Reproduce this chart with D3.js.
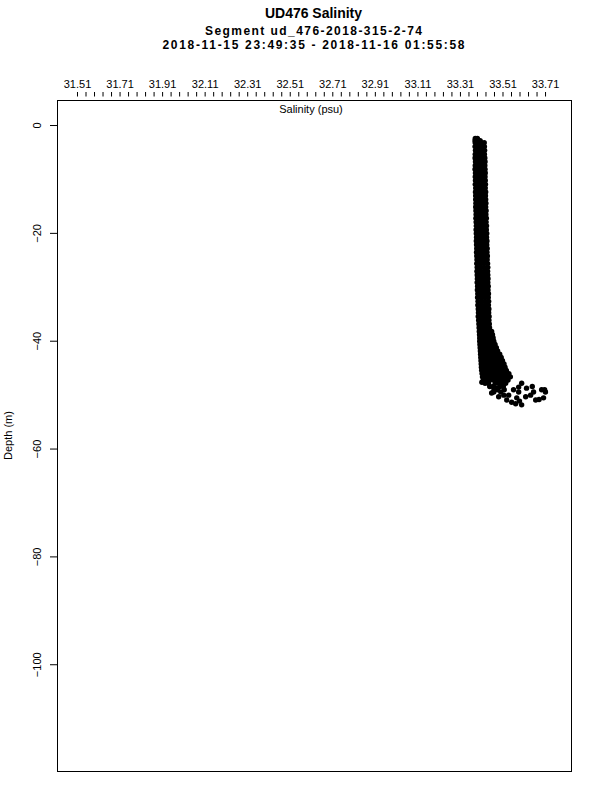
<!DOCTYPE html>
<html>
<head>
<meta charset="utf-8">
<script src="https://cdn.jsdelivr.net/npm/d3@7"></script>
<style>
  html, body { margin: 0; padding: 0; background: #fff; }
  svg { display: block; }
  text { font-family: "Liberation Sans", Arial, Helvetica, sans-serif; fill: #000; }
</style>
</head>
<body>
<svg id="chart" width="600" height="800"></svg>
<script>
// ---------------- data ----------------
const titleLines = [
  "UD476 Salinity",
  "Segment ud_476-2018-315-2-74",
  "2018-11-15 23:49:35 - 2018-11-16 01:55:58"
];
const xLabel = "Salinity (psu)";
const yLabel = "Depth (m)";
const xTickLabels = [31.51, 31.71, 31.91, 32.11, 32.31, 32.51, 32.71, 32.91, 33.11, 33.31, 33.51, 33.71];
const yTickValues = [0, -20, -40, -60, -80, -100];
const xDomain = [31.416, 33.832];
const yDomain = [-119.8, 4.64];

// dense profile: [depth, [salinity readings at that depth]]
const bandRows = [
  [-2.5, [33.382, 33.392]],
  [-2.9, [33.381, 33.394, 33.405]],
  [-3.3, [33.382, 33.396, 33.410, 33.424]],
  [-4.0, [33.381, 33.395, 33.410, 33.425]],
  [-4.7, [33.383, 33.397, 33.411, 33.426]],
  [-5.4, [33.382, 33.396, 33.411, 33.425]],
  [-6.1, [33.381, 33.396, 33.412, 33.427]],
  [-6.8, [33.383, 33.398, 33.413, 33.428]],
  [-7.5, [33.382, 33.397, 33.412, 33.427]],
  [-8.2, [33.381, 33.396, 33.412, 33.428]],
  [-8.9, [33.383, 33.398, 33.413, 33.429]],
  [-9.6, [33.382, 33.397, 33.413, 33.428]],
  [-10.3, [33.383, 33.398, 33.414, 33.429]],
  [-11.0, [33.382, 33.398, 33.414, 33.430]],
  [-11.7, [33.384, 33.399, 33.414, 33.429]],
  [-12.4, [33.383, 33.398, 33.415, 33.431]],
  [-13.1, [33.384, 33.399, 33.415, 33.430]],
  [-13.8, [33.384, 33.400, 33.416, 33.431]],
  [-14.5, [33.385, 33.400, 33.415, 33.432]],
  [-15.2, [33.384, 33.400, 33.416, 33.431]],
  [-15.9, [33.385, 33.401, 33.417, 33.433]],
  [-16.6, [33.386, 33.401, 33.416, 33.432]],
  [-17.3, [33.385, 33.401, 33.417, 33.434]],
  [-18.0, [33.386, 33.402, 33.418, 33.433]],
  [-18.7, [33.387, 33.402, 33.418, 33.435]],
  [-19.4, [33.386, 33.402, 33.419, 33.434]],
  [-20.1, [33.387, 33.403, 33.419, 33.436]],
  [-20.8, [33.388, 33.403, 33.419, 33.435]],
  [-21.5, [33.387, 33.404, 33.420, 33.437]],
  [-22.2, [33.388, 33.404, 33.420, 33.436]],
  [-22.9, [33.389, 33.405, 33.421, 33.438]],
  [-23.6, [33.388, 33.404, 33.421, 33.437]],
  [-24.3, [33.389, 33.405, 33.422, 33.439]],
  [-25.0, [33.390, 33.406, 33.422, 33.438]],
  [-25.7, [33.389, 33.406, 33.423, 33.440]],
  [-26.4, [33.391, 33.407, 33.423, 33.441]],
  [-27.1, [33.390, 33.407, 33.424, 33.440]],
  [-27.8, [33.391, 33.408, 33.424, 33.441]],
  [-28.5, [33.392, 33.408, 33.425, 33.442]],
  [-29.2, [33.391, 33.409, 33.425, 33.441]],
  [-29.9, [33.393, 33.409, 33.426, 33.443]],
  [-30.6, [33.392, 33.410, 33.426, 33.442]],
  [-31.3, [33.394, 33.410, 33.427, 33.444]],
  [-32.0, [33.393, 33.411, 33.427, 33.443]],
  [-32.7, [33.395, 33.411, 33.428, 33.445]],
  [-33.4, [33.394, 33.412, 33.428, 33.444]],
  [-34.1, [33.396, 33.412, 33.429, 33.446]],
  [-34.8, [33.397, 33.413, 33.430, 33.445]],
  [-35.5, [33.396, 33.413, 33.430, 33.447]],
  [-36.2, [33.398, 33.414, 33.431, 33.446]],
  [-36.9, [33.399, 33.415, 33.431, 33.448]],
  [-37.6, [33.400, 33.416, 33.432, 33.449]],
  [-38.3, [33.401, 33.417, 33.433, 33.450, 33.459]],
  [-38.9, [33.402, 33.418, 33.434, 33.450, 33.463]],
  [-39.5, [33.403, 33.419, 33.435, 33.451, 33.466]],
  [-40.1, [33.403, 33.419, 33.435, 33.452, 33.469]],
  [-40.7, [33.404, 33.420, 33.436, 33.453, 33.469, 33.475]],
  [-41.3, [33.405, 33.421, 33.437, 33.454, 33.470, 33.481]],
  [-41.9, [33.406, 33.422, 33.438, 33.455, 33.471, 33.487]],
  [-42.5, [33.407, 33.423, 33.440, 33.457, 33.474, 33.491, 33.497]],
  [-43.1, [33.408, 33.424, 33.441, 33.458, 33.475, 33.492, 33.504]],
  [-43.7, [33.409, 33.425, 33.442, 33.459, 33.476, 33.493, 33.510]],
  [-44.3, [33.410, 33.426, 33.443, 33.460, 33.477, 33.494, 33.511, 33.517]],
  [-44.9, [33.411, 33.427, 33.444, 33.461, 33.478, 33.495, 33.512, 33.522]],
  [-45.5, [33.412, 33.428, 33.445, 33.462, 33.479, 33.496, 33.513, 33.528]],
  [-46.1, [33.414, 33.430, 33.447, 33.464, 33.481, 33.498, 33.515, 33.532, 33.540]],
  [-46.7, [33.416, 33.432, 33.449, 33.466, 33.483, 33.500, 33.517, 33.534, 33.547]],
  [-47.3, [33.420, 33.436, 33.452, 33.468, 33.484, 33.501, 33.518, 33.536]],
  [-47.9, [33.428, 33.444, 33.476, 33.492, 33.508, 33.525]],
  [-48.5, [33.450, 33.466, 33.498, 33.514]],
  [-49.1, [33.470, 33.486, 33.518]]
];

// scattered deep readings
const deepDepth    = [-47.7, -47.0, -49.5, -50.4, -50.1, -50.1, -51.4, -50.6, -51.9, -50.4, -47.9, -48.8, -49.5, -51.0, -49.1, -50.6, -50.1, -49.7, -48.8, -49.1, -49.5, -49.5, -51.2, -48.5, -50.9, -49.5, -51.0, -51.7, -48.6, -49.1];
const deepSalinity = [33.413, 33.427, 33.469, 33.492, 33.516, 33.539, 33.553, 33.577, 33.600, 33.619, 33.600, 33.623, 33.656, 33.666, 33.694, 33.703, 33.642, 33.459, 33.482, 33.562, 33.586, 33.712, 33.590, 33.650, 33.682, 33.502, 33.530, 33.572, 33.586, 33.708];

// ---------------- chart ----------------
const svg = d3.select("#chart");
const plot = { left: 57, right: 571, top: 100, bottom: 771 };

const x = d3.scaleLinear().domain(xDomain).range([plot.left, plot.right]);
const y = d3.scaleLinear().domain(yDomain).range([plot.bottom, plot.top]);

// titles
const titleY = [18, 35, 49];
const titleLen = [97, 217, 302];
const titleSize = [14, 12, 12];
svg.selectAll("text.title").data(titleLines).join("text")
  .attr("class", "title")
  .attr("x", 313.5)
  .attr("y", (d, i) => titleY[i])
  .attr("text-anchor", "middle")
  .attr("textLength", (d, i) => titleLen[i])
  .attr("lengthAdjust", "spacing")
  .style("font-weight", "bold")
  .style("font-size", (d, i) => titleSize[i] + "px")
  .text(d => d);

// top axis: minor ticks every 0.04, labels every 0.2
const tickVals = d3.range(0, 56).map(i => +(xTickLabels[0] + i * 0.04).toFixed(2));
const topAxis = d3.axisTop(x)
  .tickValues(tickVals)
  .tickSize(4.5)
  .tickSizeOuter(0)
  .tickFormat(d => xTickLabels.some(v => Math.abs(v - d) < 1e-6) ? d.toFixed(2) : "");
const gx = svg.append("g").attr("transform", `translate(0,${plot.top - 3.5})`).call(topAxis);
gx.select(".domain").remove();
gx.selectAll(".tick line").attr("stroke", "#000").attr("stroke-width", 1);
gx.selectAll(".tick text")
  .attr("y", -8.5)
  .style("font-size", "11px")
  .style("font-family", "'Liberation Sans', Arial, sans-serif")
  .attr("fill", "#000");

// left axis
const leftAxis = d3.axisLeft(y)
  .tickValues(yTickValues)
  .tickSize(7)
  .tickSizeOuter(0)
  .tickFormat(d => d === 0 ? "0" : "\u2212" + Math.abs(d));
const gy = svg.append("g").attr("transform", `translate(${plot.left},0)`).call(leftAxis);
gy.select(".domain").remove();
gy.selectAll(".tick line").attr("stroke", "#000");
gy.selectAll(".tick text")
  .attr("x", null).attr("dy", null)
  .attr("text-anchor", "middle")
  .attr("transform", "translate(-16,0) rotate(-90)")
  .attr("y", 0)
  .style("font-size", "11px")
  .style("font-family", "'Liberation Sans', Arial, sans-serif")
  .attr("fill", "#000");

// frame
svg.append("rect")
  .attr("x", plot.left + 0.5).attr("y", plot.top + 0.5)
  .attr("width", plot.right - plot.left).attr("height", plot.bottom - plot.top)
  .attr("fill", "none").attr("stroke", "#000").attr("stroke-width", 1);

// axis titles
svg.append("text")
  .attr("x", (plot.left + plot.right) / 2 - 3)
  .attr("y", 113)
  .attr("text-anchor", "middle")
  .style("font-size", "11px")
  .text(xLabel);
svg.append("text")
  .attr("transform", `translate(12,${(plot.top + plot.bottom) / 2}) rotate(-90)`)
  .attr("text-anchor", "middle")
  .style("font-size", "11px")
  .text(yLabel);

// points
const pts = [];
bandRows.forEach(([d, sals]) => sals.forEach(s => pts.push({ d, s })));
deepDepth.forEach((d, i) => pts.push({ d, s: deepSalinity[i] }));

svg.append("g").selectAll("circle").data(pts).join("circle")
  .attr("cx", p => x(p.s))
  .attr("cy", p => y(p.d))
  .attr("r", 2.7)
  .attr("fill", "#000");
</script>
</body>
</html>
